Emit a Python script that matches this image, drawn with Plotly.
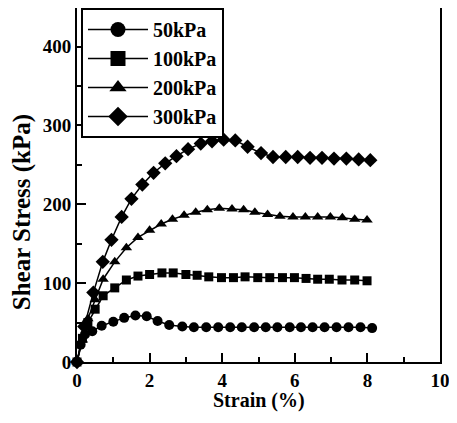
import plotly.graph_objects as go

# Data
strain_50 = [0, 0.1, 0.22, 0.42, 0.68, 1.0, 1.3, 1.61, 1.92, 2.22, 2.54, 2.9, 3.22, 3.56, 3.89,
             4.22, 4.54, 4.88, 5.2, 5.52, 5.86, 6.17, 6.49, 6.82, 7.15, 7.48, 7.81, 8.13]
stress_50 = [0, 22, 35, 39, 46, 51, 56, 59, 58, 52, 47, 45, 44, 44, 44,
             44, 44, 44, 44, 44, 44, 44, 44, 44, 44, 44, 44, 43]

strain_100 = [0, 0.15, 0.3, 0.5, 0.72, 1.04, 1.36, 1.68, 2.0, 2.34, 2.65, 3.0, 3.31, 3.63, 3.98,
              4.31, 4.63, 4.98, 5.31, 5.66, 5.99, 6.31, 6.63, 6.95, 7.3, 7.65, 7.99]
stress_100 = [0, 30, 50, 67, 84, 94, 104, 109, 111, 113, 113, 111, 110, 108, 107,
              107, 108, 107, 107, 107, 107, 106, 105, 105, 104, 104, 103]

strain_200 = [0, 0.15, 0.3, 0.5, 0.72, 1.04, 1.36, 1.68, 2.0, 2.32, 2.63, 2.95, 3.27, 3.59,
              3.92, 4.27, 4.59, 4.90, 5.25, 5.59, 5.95, 6.29, 6.63, 6.98, 7.31, 7.65, 7.99]
stress_200 = [0, 28, 55, 79, 105, 127, 145, 158, 167, 175, 181, 186, 190, 193,
              195, 194, 193, 190, 187, 185, 184, 184, 184, 184, 183, 181, 180]

strain_300 = [0, 0.2, 0.45, 0.71, 0.95, 1.23, 1.5, 1.8, 2.11, 2.43, 2.74, 3.06, 3.41, 3.72,
              4.04, 4.36, 4.70, 5.07, 5.40, 5.75, 6.08, 6.42, 6.75, 7.08, 7.42, 7.76, 8.08]
stress_300 = [0, 45, 88, 127, 155, 184, 207, 225, 240, 252, 261, 270, 277, 280,
              282, 281, 273, 265, 260, 260, 260, 259, 259, 258, 258, 257, 256]

series = [
    ("50kPa", strain_50, stress_50, "circle", 10),
    ("100kPa", strain_100, stress_100, "square", 9),
    ("200kPa", strain_200, stress_200, "triangle-up", 10),
    ("300kPa", strain_300, stress_300, "diamond", 11),
]

x_ticks = [0, 2, 4, 6, 8, 10]
y_ticks = [0, 100, 200, 300, 400]

FONT = "Liberation Serif, Times New Roman, serif"

fig = go.Figure()
for i, (name, xs, ys, sym, sz) in enumerate(series):
    fig.add_trace(go.Scatter(
        x=xs, y=ys, name=name, mode="lines+markers",
        line=dict(color="black", width=1.5),
        marker=dict(symbol=sym, size=sz, color="black"),
        cliponaxis=False, showlegend=False,
    ))
# legend entries (larger symbols, as in the reference legend)
for i, (name, xs, ys, sym, sz) in enumerate(series):
    fig.add_trace(go.Scatter(
        x=[None], y=[None], name=name, mode="lines+markers",
        line=dict(color="black", width=1.5),
        marker=dict(symbol=sym, size=15, color="black"),
        showlegend=True,
    ))

axis_common = dict(
    showline=True, linecolor="black", linewidth=2, mirror=True,
    ticks="inside", tickcolor="black", tickwidth=1.5, ticklen=9,
    showgrid=False, zeroline=False, automargin=False,
    ticklabeloverflow="allow",
    tickfont=dict(family=FONT, size=19, color="black", weight="bold"),
)

# page has an 8px body margin, so the figure is sized to fit inside the window
fig.update_layout(
    width=441, height=407,
    margin=dict(l=69, r=9, t=0, b=53),
    paper_bgcolor="white", plot_bgcolor="white",
    showlegend=True,
    legend=dict(
        x=0.011, y=1.0, xanchor="left", yanchor="top",
        bgcolor="white", bordercolor="black", borderwidth=2,
        font=dict(family=FONT, size=20, color="black", weight="bold"),
        itemwidth=60, traceorder="normal",
    ),
    xaxis=dict(
        range=[0, 10], tickvals=x_ticks, ticktext=[str(v) for v in x_ticks],
        minor=dict(dtick=1, ticks="inside", ticklen=5, tickcolor="black", tickwidth=1.5),
        **axis_common,
    ),
    yaxis=dict(
        range=[0, 449], tickvals=y_ticks, ticktext=[str(v) for v in y_ticks],
        minor=dict(dtick=50, ticks="inside", ticklen=5, tickcolor="black", tickwidth=1.5),
        **axis_common,
    ),
    annotations=[
        dict(text="Strain (%)", xref="paper", yref="paper", x=0.5, y=0,
             xanchor="center", yanchor="middle", yshift=-38, showarrow=False,
             font=dict(family=FONT, size=20, color="black", weight="bold")),
        dict(text="Shear Stress (kPa)", xref="paper", yref="paper", x=0, y=0.423,
             xanchor="center", yanchor="middle", xshift=-55, textangle=-90,
             showarrow=False, font=dict(family=FONT, size=25, color="black", weight="bold")),
    ],
)

fig.write_html("out.html")
